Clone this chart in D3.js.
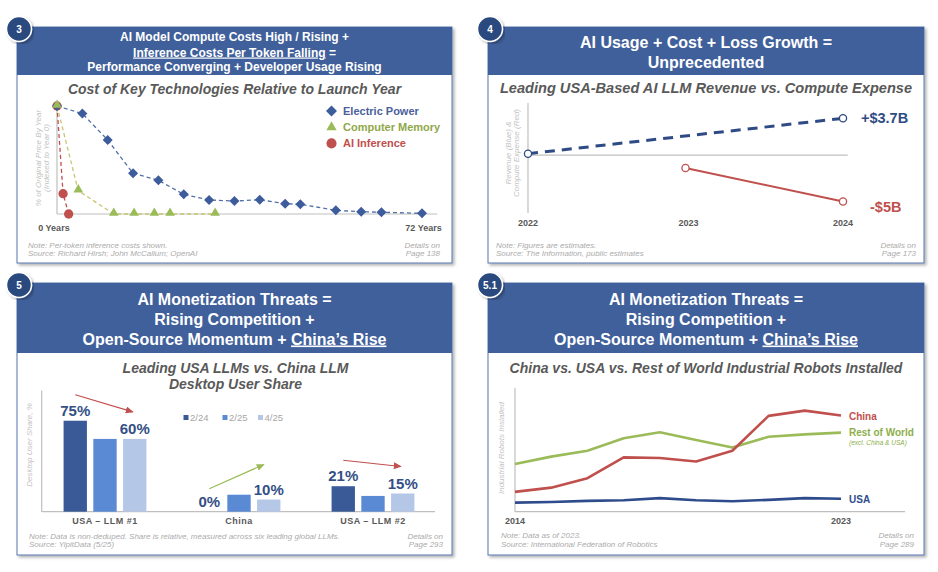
<!DOCTYPE html>
<html>
<head>
<meta charset="utf-8">
<script src="https://cdn.jsdelivr.net/npm/d3@7"></script>
<style>
  body { margin: 0; background: #fff; }
  text { font-family: "Liberation Sans", Arial, sans-serif; }
</style>
</head>
<body>
<script>
"use strict";

// ---- 3: cost of key technologies, % of launch-year price
var powerYears = [0, 5, 10, 15, 20, 25, 30, 35, 40, 45, 48, 55, 60, 64, 72];
var powerCost = [100, 93, 68.5, 37.7, 31.2, 18.2, 13, 12, 13.2, 9.5, 9, 3.4, 2.1, 1.6, 0.6];
var memoryYears = [0, 4.2, 11.2, 15.2, 19.2, 22.3, 31.2];
var memoryCost = [100, 21.6, 0, 0, 0, 0, 0];
var inferenceYears = [0, 1.2, 2.3];
var inferenceCost = [100, 18.8, 0];
var costSeries = ["Electric Power", "Computer Memory", "AI Inference"];
var costTicks = ["0 Years", "72 Years"];

// ---- 4: revenue (blue) vs compute expense (red), $B
var llmYears = [2022, 2023, 2024];
var revYears = [2022, 2024];
var revenue = [0, 3.7];
var expYears = [2023, 2024];
var expense = [-1.5, -5];
var llmLabels = ["+$3.7B", "-$5B"];

// ---- 5: desktop user share, %
var shareGroups = ["USA \u2013 LLM #1", "China", "USA \u2013 LLM #2"];
var sharePeriods = ["2/24", "2/25", "4/25"];
var share224 = [75, 0, 21];
var share225 = [60, 14, 13];
var share425 = [60, 10, 15];

// ---- 5.1: industrial robots installed, thousand units
var robotYears = [2014, 2015, 2016, 2017, 2018, 2019, 2020, 2021, 2022, 2023];
var chinaRobots = [57, 69, 96, 156, 154, 144, 175, 275, 290, 276];
var rowRobots = [137, 158, 175, 211, 228, 206, 184, 215, 222, 227];
var usaRobots = [26, 28, 31, 33, 39, 33, 30, 34, 39, 37];

var BLUE = "#40609B", NAVY = "#2C4A7F", RED = "#C0504D", GREEN = "#9BBB59",
    GREY = "#595959", LIGHT = "#ABABAB";

var svg = d3.select("body").append("svg")
    .attr("width", 938).attr("height", 572);

var defs = svg.append("defs");
defs.append("filter").attr("id", "shadow")
    .attr("x", "-5%").attr("y", "-5%").attr("width", "115%").attr("height", "115%")
  .append("feDropShadow")
    .attr("dx", 2).attr("dy", 2).attr("stdDeviation", 1.5)
    .attr("flood-color", "#000").attr("flood-opacity", 0.3);
[["arrRed", RED], ["arrGreen", GREEN]].forEach(function (m) {
  defs.append("marker").attr("id", m[0])
      .attr("viewBox", "0 0 8 7").attr("refX", 7).attr("refY", 3.5)
      .attr("markerWidth", 8).attr("markerHeight", 7)
      .attr("markerUnits", "userSpaceOnUse").attr("orient", "auto")
    .append("path").attr("d", "M0,0L8,3.5L0,7z").attr("fill", m[1]);
});

function txt(g, x, y, s, opt) {
  opt = opt || {};
  return g.append("text").attr("x", x).attr("y", y)
      .attr("font-size", opt.size || 9)
      .attr("font-weight", opt.bold ? "bold" : null)
      .attr("font-style", opt.italic ? "italic" : null)
      .attr("text-anchor", opt.anchor || "start")
      .attr("fill", opt.fill || GREY)
      .text(s);
}

// frame + header + badge + subtitle + footnotes
function panel(p) {
  var g = svg.append("g");
  g.append("rect").attr("x", p.x0).attr("y", p.y0)
      .attr("width", p.x1 - p.x0).attr("height", p.y1 - p.y0)
      .attr("fill", "#fff").attr("stroke", "#5674AD").attr("stroke-width", 1)
      .attr("filter", "url(#shadow)");
  g.append("rect").attr("x", p.x0).attr("y", p.y0)
      .attr("width", p.x1 - p.x0).attr("height", p.headH)
      .attr("fill", BLUE);
  var cx = (p.x0 + p.x1) / 2;
  p.title.forEach(function (segs, i) {
    var t = g.append("text").attr("x", cx).attr("y", p.titleY[i])
        .attr("text-anchor", "middle").attr("fill", "#fff")
        .attr("font-weight", "bold").attr("font-size", p.titleSize);
    segs.forEach(function (s) {
      t.append("tspan").text(s[0])
          .style("text-decoration", s[1] ? "underline" : null);
    });
  });
  p.sub.forEach(function (s, i) {
    txt(g, cx + (p.subDx || 0), p.subY[i], s,
        {size: p.subSize, bold: true, italic: true, anchor: "middle"});
  });
  p.note.forEach(function (s, i) {
    txt(g, p.noteX, p.noteY[i], s, {size: 8, italic: true, fill: LIGHT});
  });
  ["Details on", p.page].forEach(function (s, i) {
    txt(g, p.detX, p.noteY[i], s, {size: 8, italic: true, fill: LIGHT, anchor: "end"});
  });
  g.append("circle").attr("cx", p.x0 + 2).attr("cy", p.y0 + 2).attr("r", 12.5)
      .attr("fill", NAVY).attr("stroke", "#fff").attr("stroke-width", 1.5)
      .attr("filter", "url(#shadow)");
  txt(g, p.x0 + 2, p.y0 + 5.5, p.badge,
      {size: 10, bold: true, fill: "#fff", anchor: "middle"});
  return g;
}

function yLabel(g, x, y, lines) {
  var t = g.append("text").attr("transform", "translate(" + x + "," + y + ") rotate(-90)")
      .attr("text-anchor", "middle").attr("font-size", 8)
      .attr("font-style", "italic").attr("fill", "#C3C3C3");
  lines.forEach(function (s, i) {
    t.append("tspan").attr("x", 0).attr("y", i * 8.5).text(s);
  });
}

function axisLine(g, xa, ya, xb, yb) {
  g.append("line").attr("x1", xa).attr("y1", ya).attr("x2", xb).attr("y2", yb)
      .attr("stroke", "#BFBFBF").attr("stroke-width", 1.2);
}

var threats = [
  [["AI Monetization Threats ="]],
  [["Rising Competition +"]],
  [["Open-Source Momentum + "], ["China\u2019s Rise", true]]
];

// ================= panel 3 =================
var g1 = panel({
  x0: 17, y0: 27, x1: 452, y1: 263, headH: 48, badge: "3",
  title: [[["AI Model Compute Costs High / Rising +"]],
          [["Inference Costs Per Token Falling", true], [" ="]],
          [["Performance Converging + Developer Usage Rising"]]],
  titleY: [40.5, 56.5, 71], titleSize: 12,
  sub: ["Cost of Key Technologies Relative to Launch Year"], subY: [94], subSize: 14,
  note: ["Note: Per-token inference costs shown.", "Source: Richard Hirsh; John McCallum; OpenAI"],
  noteX: 28, noteY: [248, 256], detX: 440, page: "Page 138"
});

var x1 = d3.scaleLinear().domain([0, 72]).range([57, 422]);
var y1 = d3.scaleLinear().domain([0, 100]).range([214, 106]);
axisLine(g1, x1(0), y1(0), x1(0), y1(103));
axisLine(g1, x1(0), y1(0), x1(75), y1(0));
yLabel(g1, 40.5, 158, ["% of Original Price By Year", "(Indexed to Year 0)"]);
txt(g1, x1(-0.6), 231, costTicks[0], {bold: true, anchor: "middle"});
txt(g1, x1(72.3), 231, costTicks[1], {bold: true, anchor: "middle"});

var costDefs = [
  {yrs: inferenceYears, v: inferenceCost, line: RED, fill: RED, sym: d3.symbolCircle, size: 68, rot: 0},
  {yrs: powerYears, v: powerCost, line: "#5470A6", fill: "#3D5C9C", sym: d3.symbolSquare, size: 50, rot: 45},
  {yrs: memoryYears, v: memoryCost, line: "#C8C66E", fill: GREEN, sym: d3.symbolTriangle, size: 40, rot: 0}
];
var costLine = d3.line().x(function (d) { return x1(d[0]); }).y(function (d) { return y1(d[1]); });
costDefs.forEach(function (c) {
  var pts = c.yrs.map(function (yr, i) { return [yr, c.v[i]]; });
  g1.append("path").attr("d", costLine(pts)).attr("fill", "none")
      .attr("stroke", c.line).attr("stroke-width", 1.3).attr("stroke-dasharray", "4,3");
});
costDefs.forEach(function (c) {
  var pts = c.yrs.map(function (yr, i) { return [yr, c.v[i]]; });
  g1.selectAll(null).data(pts).enter().append("path")
      .attr("d", d3.symbol().type(c.sym).size(c.size))
      .attr("transform", function (d) {
        return "translate(" + x1(d[0]) + "," + (y1(d[1]) - (c.sym === d3.symbolTriangle ? 1 : 0)) + ") rotate(" + c.rot + ")";
      })
      .attr("fill", c.fill);
});
// legend
var legDefs = [
  {sym: d3.symbolSquare, size: 60, rot: 45, fill: "#3D5C9C", text: "#4B5F9B"},
  {sym: d3.symbolTriangle, size: 46, rot: 0, fill: GREEN, text: "#8FA84A"},
  {sym: d3.symbolCircle, size: 80, rot: 0, fill: RED, text: RED}
];
costSeries.forEach(function (s, i) {
  var ly = 111 + i * 16.2;
  g1.append("path").attr("d", d3.symbol().type(legDefs[i].sym).size(legDefs[i].size))
      .attr("transform", "translate(331.5," + ly + ") rotate(" + legDefs[i].rot + ")")
      .attr("fill", legDefs[i].fill);
  txt(g1, 343, ly + 4, s, {size: 11, bold: true, fill: legDefs[i].text});
});

// ================= panel 4 =================
var g2 = panel({
  x0: 488, y0: 27, x1: 924, y1: 263, headH: 48, badge: "4",
  title: [[["AI Usage + Cost + Loss Growth ="]], [["Unprecedented"]]],
  titleY: [47.5, 67.5], titleSize: 16,
  sub: ["Leading USA-Based AI LLM Revenue vs. Compute Expense"], subY: [93], subSize: 14.6,
  note: ["Note: Figures are estimates.", "Source: The Information, public estimates"],
  noteX: 496, noteY: [248, 256], detX: 916, page: "Page 173"
});
var x2 = d3.scaleLinear().domain([2022, 2024]).range([528, 843]);
var y2 = d3.scaleLinear().domain([-6.2, 5.3]).range([213, 103]);
axisLine(g2, x2(2022), y2(5.3), x2(2022), y2(-6.2));
axisLine(g2, x2(2022), y2(0) + 1.5, x2(2024.03), y2(0) + 1.5);
yLabel(g2, 510.5, 153, ["Revenue (Blue) &", "Compute Expense (Red)"]);
llmYears.forEach(function (yr) {
  txt(g2, x2(yr) + (yr === 2023 ? 3 : 0), 226, String(yr), {bold: true, anchor: "middle"});
});
var llmLine = d3.line().x(function (d) { return x2(d[0]); }).y(function (d) { return y2(d[1]); });
var revPts = revYears.map(function (yr, i) { return [yr, revenue[i]]; });
var expPts = expYears.map(function (yr, i) { return [yr, expense[i]]; });
g2.append("path").attr("d", llmLine(revPts)).attr("fill", "none")
    .attr("stroke", "#2F4B85").attr("stroke-width", 3).attr("stroke-dasharray", "10,7");
g2.append("path").attr("d", llmLine(expPts)).attr("fill", "none")
    .attr("stroke", RED).attr("stroke-width", 2);
[[revPts, "#2F4B85"], [expPts, RED]].forEach(function (s) {
  g2.selectAll(null).data(s[0]).enter().append("circle")
      .attr("cx", function (d) { return x2(d[0]); })
      .attr("cy", function (d) { return y2(d[1]); })
      .attr("r", 3.6).attr("fill", "#fff").attr("stroke", s[1]).attr("stroke-width", 1.3);
});
txt(g2, x2(2024) + 18, y2(revenue[1]) + 5, llmLabels[0], {size: 14.5, bold: true, fill: "#2F4B85"});
txt(g2, x2(2024) + 27, y2(expense[1]) + 10, llmLabels[1], {size: 14.5, bold: true, fill: RED});

// ================= panel 5 =================
var g3 = panel({
  x0: 17, y0: 283, x1: 452, y1: 555, headH: 70, badge: "5",
  title: threats, titleY: [305, 325, 344.5], titleSize: 16,
  sub: ["Leading USA LLMs vs. China LLM", "Desktop User Share"], subY: [372.5, 388.5], subSize: 14, subDx: 1,
  note: ["Note: Data is non-deduped. Share is relative, measured across six leading global LLMs.",
         "Source: YipitData (5/25)"],
  noteX: 29, noteY: [538.5, 547], detX: 443, page: "Page 293"
});
var xg = d3.scaleBand().domain(shareGroups).range([38, 440]);
var xb = d3.scaleBand().domain(sharePeriods).range([0, xg.bandwidth()])
    .paddingInner(0.215).paddingOuter(0.86);
var y3 = d3.scaleLinear().domain([0, 100]).range([511.7, 390.4]);
var barColors = ["#3A5A97", "#5B8AD5", "#B5C7E6"];
var shareBy = [share224, share225, share425];
axisLine(g3, 41.7, y3(100), 41.7, y3(0));
axisLine(g3, 41.7, y3(0), 435, y3(0));
yLabel(g3, 31.5, 445, ["Desktop User Share, %"]);
shareGroups.forEach(function (grp, gi) {
  sharePeriods.forEach(function (per, pi) {
    var v = shareBy[pi][gi];
    var bx = xg(grp) + xb(per);
    g3.append("rect").attr("x", bx).attr("y", y3(v))
        .attr("width", xb.bandwidth()).attr("height", y3(0) - y3(v))
        .attr("fill", barColors[pi]);
    if (pi !== 1) {
      txt(g3, bx + xb.bandwidth() / 2, y3(v) - 5, v + "%",
          {size: 15, bold: true, fill: "#344F86", anchor: "middle"});
    }
  });
  txt(g3, xg(grp) + xg.bandwidth() / 2, 523.5, grp, {bold: true, anchor: "middle"})
      .attr("letter-spacing", 0.5);
  // trend arrow from first to last period
  var c0 = xg(grp) + xb(sharePeriods[0]) + xb.bandwidth() / 2;
  var c2 = xg(grp) + xb(sharePeriods[2]) + xb.bandwidth() / 2;
  var up = share425[gi] > share224[gi];
  g3.append("line")
      .attr("x1", c0).attr("y1", y3(share224[gi]) - (up ? 23 : 26))
      .attr("x2", c2 - (up ? 5 : 2)).attr("y2", y3(share425[gi]) - (up ? 35 : 27))
      .attr("stroke", up ? GREEN : RED).attr("stroke-width", 1.2)
      .attr("marker-end", up ? "url(#arrGreen)" : "url(#arrRed)");
});
// legend
sharePeriods.forEach(function (per, pi) {
  var lx = [183.5, 222.5, 258][pi];
  g3.append("rect").attr("x", lx).attr("y", 415).attr("width", 5).attr("height", 5)
      .attr("fill", barColors[pi]);
  txt(g3, lx + 6.5, 421, per, {size: 9.5, fill: "#A6A6A6"});
});

// ================= panel 5.1 =================
var g4 = panel({
  x0: 488, y0: 283, x1: 924, y1: 555, headH: 70, badge: "5.1",
  title: threats, titleY: [305, 325, 344.5], titleSize: 16,
  sub: ["China vs. USA vs. Rest of World Industrial Robots Installed"], subY: [372.5], subSize: 14,
  note: ["Note: Data as of 2023.", "Source: International Federation of Robotics"],
  noteX: 501, noteY: [538, 547], detX: 914, page: "Page 289"
});
var x4 = d3.scaleLinear().domain([2014, 2023]).range([515, 841]);
var y4 = d3.scaleLinear().domain([0, 355]).range([511.7, 388]);
axisLine(g4, x4(2014), y4(355), x4(2014), y4(0));
axisLine(g4, x4(2014), y4(0), 905, y4(0));
yLabel(g4, 504, 448, ["Industrial Robots Installed"]);
[robotYears[0], robotYears[robotYears.length - 1]].forEach(function (yr) {
  txt(g4, x4(yr), 524, String(yr), {bold: true, anchor: "middle"});
});
var robotLine = d3.line().x(function (d, i) { return x4(robotYears[i]); })
    .y(function (d) { return y4(d); });
[[usaRobots, "#2E4C8C"], [rowRobots, "#9BBB59"], [chinaRobots, RED]].forEach(function (s) {
  g4.append("path").attr("d", robotLine(s[0])).attr("fill", "none")
      .attr("stroke", s[1]).attr("stroke-width", 2.6).attr("stroke-linejoin", "round");
});
var lx4 = x4(2023) + 8;
txt(g4, lx4, y4(chinaRobots[9]) + 4, "China", {size: 10, bold: true, fill: RED});
txt(g4, lx4, y4(rowRobots[9]) + 3, "Rest of World", {size: 10, bold: true, fill: "#8DAE4A"});
txt(g4, lx4, y4(rowRobots[9]) + 12.5, "(excl. China & USA)", {size: 6.5, italic: true, fill: "#8DAE4A"});
txt(g4, lx4, y4(usaRobots[9]) + 4, "USA", {size: 10, bold: true, fill: "#2E4C8C"});
</script>
</body>
</html>
